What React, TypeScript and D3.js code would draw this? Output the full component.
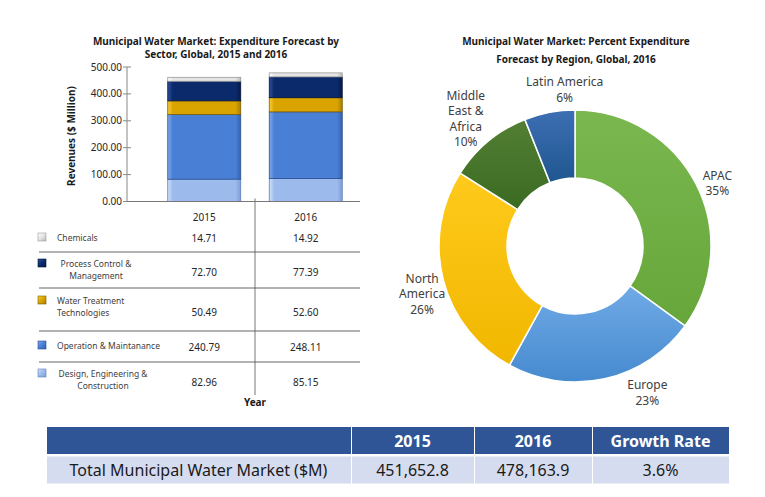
import React from 'react';
import * as d3 from 'd3';

// ---------- DATA ----------
const years = ['2015', '2016'];
const sectors = [
  'Chemicals',
  'Process Control & Management',
  'Water Treatment Technologies',
  'Operation & Maintanance',
  'Design, Engineering & Construction',
];
const sectorLabelLines = [
  ['Chemicals'],
  ['Process Control &', 'Management'],
  ['Water Treatment', 'Technologies'],
  ['Operation & Maintanance'],
  ['Design, Engineering &', 'Construction'],
];
const values2015 = [14.71, 72.7, 50.49, 240.79, 82.96];
const values2016 = [14.92, 77.39, 52.6, 248.11, 85.15];
const yTicks = [0, 100, 200, 300, 400, 500];

const regions = ['APAC', 'Europe', 'North America', 'Middle East & Africa', 'Latin America'];
const regionLabelLines = [['APAC'], ['Europe'], ['North', 'America'], ['Middle', 'East &', 'Africa'], ['Latin America']];
const regionShares = [35, 23, 26, 10, 6];

const totalHeaders = ['', '2015', '2016', 'Growth Rate'];
const totalRow = ['Total Municipal Water Market ($M)', '451,652.8', '478,163.9', '3.6%'];

// ---------- STYLE / LAYOUT ----------
const FONT = "'Noto Sans', 'Open Sans', sans-serif";
const sectorStyle = [
  { light: '#ffffff', base: '#e4e4e4', dark: '#b8b8b8', stroke: '#9a9a9a' },
  { light: '#2a4f9a', base: '#0b2a6c', dark: '#061a48', stroke: '#04143a' },
  { light: '#f7cf3a', base: '#d9a300', dark: '#a87e00', stroke: '#7d5e00' },
  { light: '#7fa9ec', base: '#4a7fd6', dark: '#3462b0', stroke: '#2a4f8c' },
  { light: '#d3e2fa', base: '#9cbaec', dark: '#7d9ed6', stroke: '#5d7fb8' },
];
const regionStyle = [
  { top: '#7ab84f', bottom: '#66a63a' },
  { top: '#70aae6', bottom: '#468acf' },
  { top: '#ffca1c', bottom: '#f1b700' },
  { top: '#527f33', bottom: '#3b6a22' },
  { top: '#3d6fb3', bottom: '#1f568f' },
];
const legendRowEdges = [228, 252, 288, 331, 362, 395];
const legendLabelY = [238, 264, 301, 346, 374];
const legendValueY = [238, 272, 312, 347, 382];
const legendLabelCenter = [null, 96, null, null, 103];
const regionLabelNudge = [[-2, 11], [37, -11], [4, 8], [-6, -2], [20, 3]];
const tableCols = [46, 351, 474, 592, 729];

export default function App() {
  // ---- bar chart ----
  const y = d3.scaleLinear().domain([0, 500]).range([201.5, 67]);
  const x = d3.scaleBand().domain(years).range([117, 393]).paddingInner(0.281).paddingOuter(0.5);
  const bw = x.bandwidth();
  const rows = years.map((yr, i) => {
    const vals = i === 0 ? values2015 : values2016;
    const o: any = { year: yr };
    sectors.forEach((s, j) => (o[s] = vals[j]));
    return o;
  });
  const stackKeys = [...sectors].reverse();
  const series = d3.stack<any>().keys(stackKeys)(rows);
  const axisX = 127;
  const dividerX = ((x('2015') as number) + bw + (x('2016') as number)) / 2;

  // ---- donut ----
  const cx = 575, cy = 246, rOuter = 136, rInner = 68;
  const pieData = d3.pie<number>().sort(null).value((d) => d)(regionShares);
  const arc = d3.arc<d3.PieArcDatum<number>>().innerRadius(rInner).outerRadius(rOuter);
  const labelArc = d3.arc<d3.PieArcDatum<number>>().innerRadius(162).outerRadius(162);
  const lineH = 15.5;

  return (
    <div style={{ position: 'absolute', left: 0, top: 0 }}>
      <svg width={765} height={497} style={{ display: 'block', fontFamily: FONT }}>
        <defs>
          {sectorStyle.map((s, i) => (
            <linearGradient key={'sg' + i} id={'sg' + i} x1="0" y1="0" x2="1" y2="0">
              <stop offset="0" stopColor={s.light} />
              <stop offset="0.07" stopColor={s.base} />
              <stop offset="0.93" stopColor={s.base} />
              <stop offset="1" stopColor={s.dark} />
            </linearGradient>
          ))}
          {sectorStyle.map((s, i) => (
            <linearGradient key={'lg' + i} id={'lg' + i} x1="0" y1="0" x2="1" y2="1">
              <stop offset="0" stopColor={s.light} />
              <stop offset="0.5" stopColor={s.base} />
              <stop offset="1" stopColor={s.dark} />
            </linearGradient>
          ))}
          {regionStyle.map((s, i) => (
            <linearGradient key={'rg' + i} id={'rg' + i} x1="0" y1="0" x2="0" y2="1">
              <stop offset="0" stopColor={s.top} />
              <stop offset="1" stopColor={s.bottom} />
            </linearGradient>
          ))}
        </defs>
        <rect x={0} y={0} width={765} height={497} fill="#ffffff" />

        {/* ---------- LEFT: stacked bar ---------- */}
        <text x={216} y={45} textAnchor="middle" fontSize={10} fontWeight="bold" fill="#1a1a1a">
          Municipal Water Market: Expenditure Forecast by
        </text>
        <text x={216} y={58} textAnchor="middle" fontSize={10} fontWeight="bold" fill="#1a1a1a">
          Sector, Global, 2015 and 2016
        </text>

        <text
          transform={`translate(75,136) rotate(-90)`}
          textAnchor="middle"
          fontSize={10}
          fontWeight="bold"
          fill="#1a1a1a"
        >
          Revenues ($ Million)
        </text>

        {yTicks.map((t) => (
          <g key={'t' + t}>
            <line x1={axisX - 4} x2={axisX + 4} y1={y(t)} y2={y(t)} stroke="#888" />
            <text x={axisX - 5} y={y(t) + 3.5} textAnchor="end" fontSize={10} fill="#262626">
              {t.toFixed(2)}
            </text>
          </g>
        ))}
        <line x1={axisX} x2={axisX} y1={y(500)} y2={y(0)} stroke="#888" />

        {series.map((s) => {
          const idx = sectors.indexOf(s.key);
          return s.map((d: any) => (
            <rect
              key={s.key + d.data.year}
              x={x(d.data.year)}
              y={y(d[1])}
              width={bw}
              height={y(d[0]) - y(d[1])}
              fill={`url(#sg${idx})`}
              stroke={sectorStyle[idx].stroke}
              strokeWidth={0.8}
            />
          ));
        })}
        <line x1={axisX} x2={360} y1={y(0)} y2={y(0)} stroke="#777" />
        <line x1={dividerX} x2={dividerX} y1={y(0) - 3} y2={legendRowEdges[legendRowEdges.length - 1]} stroke="#777" />

        {/* legend table */}
        {years.map((yr) => (
          <text key={'h' + yr} x={(x(yr) as number) + bw / 2} y={221} textAnchor="middle" fontSize={10} fill="#262626">
            {yr}
          </text>
        ))}
        {legendRowEdges.slice(1, -1).map((e, i) => (
          <line key={'le' + i} x1={39} x2={360} y1={e} y2={e} stroke="#555" strokeWidth={0.9} />
        ))}
        {sectors.map((s, i) => {
          const lines = sectorLabelLines[i];
          const c = legendLabelCenter[i];
          return (
            <g key={'lr' + i}>
              <rect
                x={38}
                y={legendLabelY[i] - 5}
                width={8}
                height={8}
                fill={`url(#lg${i})`}
                stroke={sectorStyle[i].stroke}
                strokeWidth={0.6}
              />
              {lines.map((ln, k) => (
                <text
                  key={k}
                  x={c == null ? 57 : c}
                  y={legendLabelY[i] + 3 + k * 12}
                  textAnchor={c == null ? 'start' : 'middle'}
                  fontSize={8.5}
                  fill="#404040"
                >
                  {ln}
                </text>
              ))}
              {[values2015, values2016].map((vals, j) => (
                <text
                  key={'v' + j}
                  x={(x(years[j]) as number) + bw / 2}
                  y={legendValueY[i] + 3.5}
                  textAnchor="middle"
                  fontSize={10}
                  fill="#262626"
                >
                  {vals[i].toFixed(2)}
                </text>
              ))}
            </g>
          );
        })}
        <text x={dividerX} y={406} textAnchor="middle" fontSize={10} fontWeight="bold" fill="#1a1a1a">
          Year
        </text>

        {/* ---------- RIGHT: donut ---------- */}
        <text x={576} y={45} textAnchor="middle" fontSize={10} fontWeight="bold" fill="#1a1a1a">
          Municipal Water Market: Percent Expenditure
        </text>
        <text x={576} y={63} textAnchor="middle" fontSize={10} fontWeight="bold" fill="#1a1a1a">
          Forecast by Region, Global, 2016
        </text>
        <g transform={`translate(${cx},${cy})`}>
          {pieData.map((d, i) => (
            <path key={'p' + i} d={arc(d) as string} fill={`url(#rg${i})`} stroke="#ffffff" strokeWidth={1.5} />
          ))}
          {pieData.map((d, i) => {
            const [lx, ly] = labelArc.centroid(d);
            const lines = [...regionLabelLines[i], `${regionShares[i]}%`];
            const px = lx + regionLabelNudge[i][0];
            const py = ly + regionLabelNudge[i][1] - ((lines.length - 1) * lineH) / 2;
            return (
              <text key={'l' + i} textAnchor="middle" fontSize={12} fill="#404040">
                {lines.map((ln, k) => (
                  <tspan key={k} x={px} y={py + k * lineH + 4}>
                    {ln}
                  </tspan>
                ))}
              </text>
            );
          })}
        </g>

        {/* ---------- BOTTOM: totals table ---------- */}
        {totalHeaders.map((h, i) => (
          <g key={'th' + i}>
            <rect
              x={tableCols[i] + 1}
              y={427}
              width={tableCols[i + 1] - tableCols[i] - 1}
              height={27}
              fill="#2f5597"
            />
            <text
              x={(tableCols[i] + tableCols[i + 1]) / 2}
              y={447}
              textAnchor="middle"
              fontSize={16}
              fontWeight="bold"
              fill="#ffffff"
            >
              {h}
            </text>
            <rect
              x={tableCols[i] + 1}
              y={456.5}
              width={tableCols[i + 1] - tableCols[i] - 1}
              height={27}
              fill="#d5dcef"
            />
            <text
              x={(tableCols[i] + tableCols[i + 1]) / 2}
              y={476}
              textAnchor="middle"
              fontSize={16}
              fill="#1a1a1a"
            >
              {totalRow[i]}
            </text>
          </g>
        ))}
      </svg>
    </div>
  );
}
